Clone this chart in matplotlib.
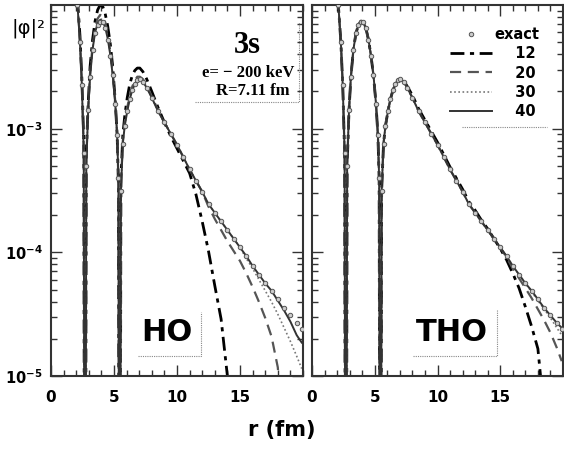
import numpy as np
import matplotlib
matplotlib.use("Agg")
import matplotlib.pyplot as plt
from matplotlib.ticker import MultipleLocator, LogLocator, NullFormatter

# radial grid (fm) and log10 |phi|^2; -9 marks a node
r = [1.9, 2.1, 2.3, 2.45, 2.6, 2.7, 2.8, 2.95, 3.1, 3.3,
     3.5, 3.7, 3.9, 4.1, 4.3, 4.5, 4.7, 4.9, 5.1, 5.25,
     5.35, 5.45, 5.55, 5.7, 5.85, 6.05, 6.25, 6.45, 6.65, 6.85,
     7.05, 7.3, 7.6, 8.0, 8.5, 9.0, 9.5, 10.0, 10.5, 11.0,
     11.5, 12.0, 12.5, 13.0, 13.5, 14.0, 14.5, 15.0, 15.5, 16.0,
     16.5, 17.0, 17.5, 18.0, 18.5, 19.0, 19.5, 19.9]

exact = [-1.80, -2.00, -2.30, -2.65, -3.20, -9, -3.30, -2.85, -2.58, -2.36,
         -2.23, -2.16, -2.14, -2.14, -2.19, -2.28, -2.41, -2.57, -2.80, -3.05,
         -3.40, -9, -3.50, -3.12, -2.98, -2.86, -2.76, -2.69, -2.64, -2.61,
         -2.60, -2.62, -2.67, -2.75, -2.86, -2.95, -3.04, -3.13, -3.23, -3.33,
         -3.42, -3.51, -3.61, -3.68, -3.75, -3.82, -3.89, -3.96, -4.03, -4.11,
         -4.18, -4.25, -4.31, -4.38, -4.45, -4.51, -4.57, -4.62]

ho12 = [-1.75, -1.95, -2.25, -2.60, -3.10, -9, -3.20, -2.80, -2.50, -2.28,
        -2.13, -2.04, -2.00, -2.01, -2.07, -2.17, -2.31, -2.50, -2.78, -3.05,
        -3.45, -9, -3.40, -3.05, -2.90, -2.75, -2.64, -2.57, -2.53, -2.51,
        -2.51, -2.54, -2.60, -2.70, -2.83, -2.95, -3.06, -3.16, -3.26, -3.36,
        -3.53, -3.75, -3.99, -4.27, -4.54, -5.00, -6.00, -9, -9, -9,
        -9, -9, -9, -9, -9, -9, -9, -9]
ho20 = [-1.78, -1.98, -2.28, -2.63, -3.15, -9, -3.25, -2.83, -2.55, -2.33,
        -2.19, -2.11, -2.08, -2.09, -2.14, -2.24, -2.37, -2.54, -2.78, -3.05,
        -3.42, -9, -3.45, -3.10, -2.95, -2.83, -2.73, -2.66, -2.61, -2.58,
        -2.58, -2.60, -2.65, -2.74, -2.85, -2.95, -3.04, -3.13, -3.23, -3.33,
        -3.42, -3.51, -3.63, -3.73, -3.82, -3.91, -3.99, -4.07, -4.17, -4.28,
        -4.40, -4.53, -4.68, -4.93, -5.60, -9, -9, -9]
ho30 = [-1.79, -1.99, -2.29, -2.64, -3.18, -9, -3.28, -2.84, -2.57, -2.35,
        -2.21, -2.14, -2.11, -2.12, -2.17, -2.26, -2.39, -2.56, -2.79, -3.05,
        -3.41, -9, -3.48, -3.11, -2.97, -2.85, -2.75, -2.68, -2.63, -2.60,
        -2.59, -2.61, -2.66, -2.75, -2.86, -2.95, -3.04, -3.13, -3.23, -3.33,
        -3.42, -3.51, -3.61, -3.68, -3.75, -3.82, -3.89, -3.96, -4.05, -4.13,
        -4.22, -4.31, -4.40, -4.50, -4.61, -4.72, -4.84, -4.94]
ho40 = [-1.80, -2.00, -2.30, -2.65, -3.20, -9, -3.30, -2.85, -2.58, -2.36,
        -2.22, -2.15, -2.12, -2.13, -2.18, -2.27, -2.40, -2.57, -2.80, -3.05,
        -3.40, -9, -3.50, -3.12, -2.98, -2.86, -2.76, -2.69, -2.64, -2.61,
        -2.60, -2.62, -2.67, -2.75, -2.86, -2.95, -3.04, -3.13, -3.23, -3.33,
        -3.42, -3.51, -3.61, -3.68, -3.75, -3.82, -3.89, -3.96, -4.03, -4.11,
        -4.18, -4.25, -4.31, -4.39, -4.47, -4.56, -4.67, -4.73]

tho12 = [-1.80, -2.00, -2.30, -2.65, -3.20, -9, -3.30, -2.85, -2.58, -2.36,
         -2.23, -2.16, -2.13, -2.14, -2.19, -2.28, -2.41, -2.57, -2.80, -3.05,
         -3.40, -9, -3.50, -3.12, -2.98, -2.86, -2.76, -2.69, -2.64, -2.61,
         -2.60, -2.61, -2.66, -2.73, -2.84, -2.93, -3.02, -3.11, -3.21, -3.31,
         -3.40, -3.49, -3.59, -3.66, -3.74, -3.81, -3.89, -3.97, -4.06, -4.17,
         -4.29, -4.44, -4.60, -4.78, -5.30, -9, -9, -9]
tho20 = [-1.80, -2.00, -2.30, -2.65, -3.20, -9, -3.30, -2.85, -2.58, -2.36,
         -2.23, -2.16, -2.13, -2.14, -2.19, -2.28, -2.41, -2.57, -2.80, -3.05,
         -3.40, -9, -3.50, -3.12, -2.98, -2.86, -2.76, -2.69, -2.64, -2.61,
         -2.60, -2.62, -2.67, -2.75, -2.86, -2.95, -3.04, -3.13, -3.23, -3.33,
         -3.42, -3.51, -3.61, -3.68, -3.75, -3.82, -3.89, -3.96, -4.04, -4.13,
         -4.21, -4.29, -4.37, -4.46, -4.55, -4.65, -4.77, -4.88]
tho30 = [-1.80, -2.00, -2.30, -2.65, -3.20, -9, -3.30, -2.85, -2.58, -2.36,
         -2.23, -2.16, -2.13, -2.14, -2.19, -2.28, -2.41, -2.57, -2.80, -3.05,
         -3.40, -9, -3.50, -3.12, -2.98, -2.86, -2.76, -2.69, -2.64, -2.61,
         -2.60, -2.62, -2.67, -2.75, -2.86, -2.95, -3.04, -3.13, -3.23, -3.33,
         -3.42, -3.51, -3.61, -3.68, -3.75, -3.82, -3.89, -3.96, -4.03, -4.11,
         -4.18, -4.25, -4.32, -4.39, -4.46, -4.53, -4.61, -4.67]
tho40 = [-1.80, -2.00, -2.30, -2.65, -3.20, -9, -3.30, -2.85, -2.58, -2.36,
         -2.23, -2.16, -2.13, -2.14, -2.19, -2.28, -2.41, -2.57, -2.80, -3.05,
         -3.40, -9, -3.50, -3.12, -2.98, -2.86, -2.76, -2.69, -2.64, -2.61,
         -2.60, -2.62, -2.67, -2.75, -2.86, -2.95, -3.04, -3.13, -3.23, -3.33,
         -3.42, -3.51, -3.61, -3.68, -3.75, -3.82, -3.89, -3.96, -4.03, -4.11,
         -4.18, -4.25, -4.31, -4.38, -4.45, -4.51, -4.57, -4.61]

labels = ["12", "20", "30", "40"]
styles = [dict(color="black", lw=2.0, ls=(0, (5, 2, 1.5, 2))),
          dict(color="#555555", lw=1.6, ls=(0, (5, 3))),
          dict(color="#777777", lw=1.2, ls=(0, (1, 1.5))),
          dict(color="#333333", lw=1.4, ls="-")]

r = np.array(r)
exact = np.array(exact)
node = exact > -8

fig = plt.figure(figsize=(5.64, 4.49), dpi=100)
ax1 = fig.add_axes([51 / 564, 73 / 449, 252 / 564, 371 / 449])
ax2 = fig.add_axes([312 / 564, 73 / 449, 251 / 564, 371 / 449])

pad = "\u2007\u2007"
for ax, curves in [(ax1, [ho12, ho20, ho30, ho40]), (ax2, [tho12, tho20, tho30, tho40])]:
    ax.plot(r[node], 10 ** exact[node], ls="none", marker="o", ms=3.2,
            mfc="#cccccc", mec="#555555", mew=0.7, zorder=5, label="exact")
    for vals, lab, st in zip(curves, labels, styles):
        ax.plot(r, 10 ** np.array(vals), label=pad + lab, **st)

    ax.set_yscale("log")
    ax.set_xlim(0, 20)
    ax.set_ylim(1e-5, 1e-2)
    ax.set_xticks([0, 5, 10, 15])
    ax.xaxis.set_minor_locator(MultipleLocator(1))
    ax.set_yticks([1e-5, 1e-4, 1e-3])
    ax.yaxis.set_minor_locator(LogLocator(base=10, subs=np.arange(2, 10)))
    ax.yaxis.set_minor_formatter(NullFormatter())
    ax.tick_params(which="both", direction="in", top=True, right=True,
                   width=1, color="#333333")
    ax.tick_params(which="major", length=8)
    ax.tick_params(which="minor", length=4)
    ax.tick_params(axis="x", pad=10)
    ax.tick_params(axis="y", pad=6)
    for lab in ax.get_xticklabels():
        lab.set_fontweight("bold")
        lab.set_fontsize(11)
    for s in ax.spines.values():
        s.set_linewidth(1.5)
        s.set_color("#333333")

ax1.set_yticklabels([r"$\mathbf{10^{-5}}$", r"$\mathbf{10^{-4}}$", r"$\mathbf{10^{-3}}$"],
                    fontsize=10.5)
ax2.set_yticklabels([])

# info box in the HO panel
serif = "Liberation Serif"
ax1.text(0.778, 0.892, "3s", transform=ax1.transAxes, ha="center", va="center",
         family=serif, fontweight="bold", fontsize=22)
ax1.text(0.782, 0.817, "e= \u2212 200 keV", transform=ax1.transAxes, ha="center",
         va="center", family=serif, fontweight="bold", fontsize=12)
ax1.text(0.802, 0.769, "R=7.11 fm", transform=ax1.transAxes, ha="center",
         va="center", family=serif, fontweight="bold", fontsize=12)
ax1.plot([0.571, 0.984, 0.984], [0.739, 0.739, 0.954], transform=ax1.transAxes,
         color="#888888", lw=0.8, ls=(0, (1, 1)))

# basis labels
ax1.text(0.46, 0.116, "HO", transform=ax1.transAxes, ha="center", va="center",
         fontweight="bold", fontsize=22)
ax1.plot([0.345, 0.595, 0.595], [0.055, 0.055, 0.1725], transform=ax1.transAxes,
         color="#888888", lw=0.8, ls=(0, (1, 1)))
ax2.text(0.558, 0.116, "THO", transform=ax2.transAxes, ha="center", va="center",
         fontweight="bold", fontsize=22)
ax2.plot([0.402, 0.737, 0.737], [0.055, 0.055, 0.178], transform=ax2.transAxes,
         color="#888888", lw=0.8, ls=(0, (1, 1)))

leg = ax2.legend(loc="upper right", bbox_to_anchor=(0.96, 0.975), frameon=False,
                 handlelength=2.9, handletextpad=0.2, labelspacing=0.28,
                 prop=dict(weight="bold", size=10.5))
ax2.plot([0.598, 0.936], [0.671, 0.671], transform=ax2.transAxes,
         color="#888888", lw=0.8, ls=(0, (1, 1)))

fig.text(0.5, 1 - 430 / 449, "r (fm)", ha="center", va="center",
         fontweight="bold", fontsize=15)
fig.text(28 / 564, 1 - 28 / 449, "|\u03c6|\u00b2", ha="center", va="center",
         fontsize=14)

fig.savefig("out.png", dpi=100)
